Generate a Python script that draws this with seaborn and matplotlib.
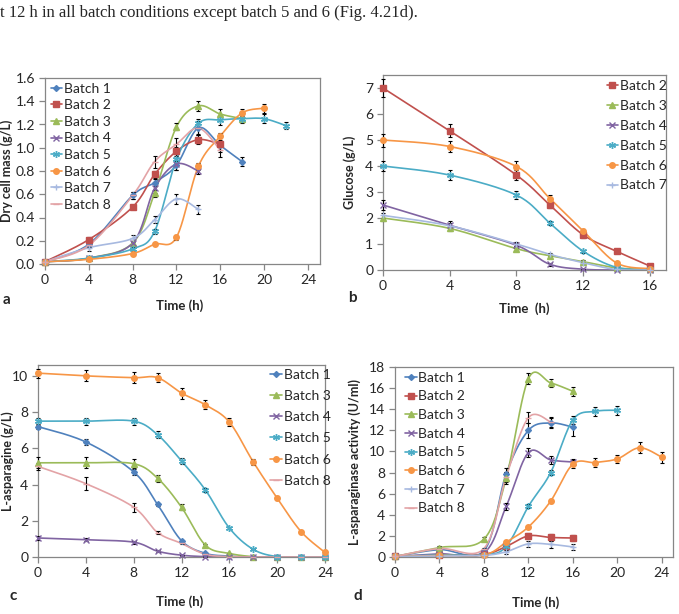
import numpy as np
import matplotlib.pyplot as plt
import seaborn as sns
from matplotlib.lines import Line2D

sns.set_style("white")
plt.rcParams['font.family'] = ['Lato', 'DejaVu Sans']

# ---- data ----
t_a = [0, 4, 8, 10, 12, 14, 16, 18, 20, 22]
dcm = {
    'Batch 1': [0.02, 0.17, 0.59, 0.70, 0.85, 1.17, 1.02, 0.88],
    'Batch 2': [0.02, 0.21, 0.49, 0.77, 0.97, 1.07, 1.03],
    'Batch 3': [0.02, 0.05, 0.18, 0.61, 1.18, 1.36, 1.29, 1.25],
    'Batch 4': [0.02, 0.05, 0.18, 0.65, 0.86, 0.80],
    'Batch 5': [0.02, 0.05, 0.13, 0.28, 0.90, 1.21, 1.24, 1.25, 1.25, 1.19],
    'Batch 6': [0.02, 0.04, 0.09, 0.17, 0.23, 0.84, 1.10, 1.30, 1.34],
    'Batch 7': [0.02, 0.14, 0.22, 0.38, 0.56, 0.47],
    'Batch 8': [0.02, 0.16, 0.59, 0.88, 1.03, 1.17, 0.98],
}
dcm_err = {
    'Batch 1': [0.01, 0.02, 0.03, 0.03, 0.04, 0.05, 0.06, 0.04],
    'Batch 2': [0.01, 0.02, 0.02, 0.03, 0.04, 0.04, 0.05],
    'Batch 3': [0.01, 0.01, 0.02, 0.03, 0.03, 0.04, 0.04, 0.04],
    'Batch 4': [0.01, 0.01, 0.02, 0.04, 0.05, 0.03],
    'Batch 5': [0.01, 0.01, 0.02, 0.02, 0.05, 0.04, 0.04, 0.03, 0.04, 0.03],
    'Batch 6': [0.01, 0.01, 0.01, 0.01, 0.02, 0.03, 0.03, 0.03, 0.04],
    'Batch 7': [0.01, 0.03, 0.03, 0.03, 0.04, 0.04],
    'Batch 8': [0.01, 0.02, 0.03, 0.05, 0.05, 0.06, 0.06],
}

t_b = [0, 4, 8, 10, 12, 14, 16]
glucose = {
    'Batch 2': [7.0, 5.35, 3.65, 2.5, 1.35, 0.72, 0.15],
    'Batch 3': [2.0, 1.6, 0.82, 0.55, 0.32, 0.08, 0.02],
    'Batch 4': [2.5, 1.72, 0.95, 0.22, 0.03, 0.0, 0.0],
    'Batch 5': [4.0, 3.65, 2.88, 1.8, 0.72, 0.1, 0.02],
    'Batch 6': [5.0, 4.75, 3.98, 2.75, 1.5, 0.27, 0.05],
    'Batch 7': [2.1, 1.7, 1.0, 0.6, 0.28, 0.02, 0.0],
}
glucose_err = {
    'Batch 2': [0.35, 0.25, 0.2, 0.1, 0.1, 0.05, 0.05],
    'Batch 3': [0.1, 0.1, 0.1, 0.05, 0.05, 0.02, 0.02],
    'Batch 4': [0.2, 0.15, 0.1, 0.05, 0.02, 0.01, 0.01],
    'Batch 5': [0.2, 0.18, 0.15, 0.08, 0.05, 0.02, 0.02],
    'Batch 6': [0.25, 0.22, 0.2, 0.12, 0.08, 0.03, 0.02],
    'Batch 7': [0.1, 0.1, 0.08, 0.05, 0.03, 0.01, 0.01],
}

t_c = [0, 4, 8, 10, 12, 14, 16, 18, 20, 22, 24]
asn = {
    'Batch 1': [7.2, 6.35, 4.7, 2.9, 0.9, 0.2, 0.05, 0.0, 0.0, 0.0, 0.0],
    'Batch 3': [5.2, 5.2, 5.15, 4.35, 2.75, 0.65, 0.2, 0.02, 0.0, 0.0, 0.0],
    'Batch 4': [1.05, 0.95, 0.82, 0.32, 0.1, 0.02, 0.0, 0.0, 0.0, 0.0, 0.0],
    'Batch 5': [7.5, 7.5, 7.5, 6.75, 5.3, 3.7, 1.6, 0.42, 0.02, 0.0, 0.0],
    'Batch 6': [10.15, 10.0, 9.9, 9.9, 9.05, 8.4, 7.45, 5.25, 3.25, 1.4, 0.25],
    'Batch 8': [5.0, 4.05, 2.75, 1.35, 0.75, 0.15, 0.02, 0.0, 0.0, 0.0, 0.0],
}
asn_err = {
    'Batch 1': [0.15, 0.15, 0.15, 0.1, 0.05, 0.03, 0.02, 0.01, 0.01, 0.01, 0.01],
    'Batch 3': [0.3, 0.3, 0.25, 0.2, 0.15, 0.05, 0.03, 0.01, 0.01, 0.01, 0.01],
    'Batch 4': [0.1, 0.08, 0.08, 0.05, 0.03, 0.01, 0.01, 0.01, 0.01, 0.01, 0.01],
    'Batch 5': [0.2, 0.2, 0.2, 0.2, 0.15, 0.1, 0.05, 0.03, 0.01, 0.01, 0.01],
    'Batch 6': [0.25, 0.3, 0.3, 0.25, 0.3, 0.25, 0.2, 0.15, 0.1, 0.05, 0.05],
    'Batch 8': [0.2, 0.35, 0.25, 0.1, 0.05, 0.02, 0.01, 0.01, 0.01, 0.01, 0.01],
}

t_d = [0, 4, 8, 10, 12, 14, 16, 18, 20, 22, 24]
activity = {
    'Batch 1': [0.05, 0.7, 0.6, 7.9, 12.0, 12.7, 12.3],
    'Batch 2': [0.05, 0.15, 0.25, 1.0, 2.0, 1.85, 1.8],
    'Batch 3': [0.05, 0.9, 1.7, 7.5, 16.9, 16.5, 15.7],
    'Batch 4': [0.05, 0.3, 0.4, 4.8, 9.9, 9.2, 9.0],
    'Batch 5': [0.05, 0.2, 0.2, 1.0, 4.8, 8.0, 13.0, 13.8, 13.9],
    'Batch 6': [0.05, 0.15, 0.2, 1.4, 2.85, 5.3, 8.8, 8.95, 9.3, 10.35, 9.45],
    'Batch 7': [0.05, 0.1, 0.15, 0.5, 1.25, 1.2, 0.95],
    'Batch 8': [0.05, 0.8, 0.8, 7.6, 13.2, 12.8],
}
activity_err = {
    'Batch 1': [0.05, 0.1, 0.2, 0.5, 0.7, 0.5, 0.8],
    'Batch 2': [0.05, 0.05, 0.1, 0.2, 0.3, 0.3, 0.3],
    'Batch 3': [0.05, 0.1, 0.2, 0.6, 0.5, 0.4, 0.4],
    'Batch 4': [0.05, 0.1, 0.1, 0.3, 0.4, 0.4, 0.3],
    'Batch 5': [0.05, 0.05, 0.05, 0.2, 0.2, 0.2, 0.4, 0.4, 0.4],
    'Batch 6': [0.05, 0.05, 0.05, 0.1, 0.1, 0.2, 0.4, 0.4, 0.4, 0.5, 0.5],
    'Batch 7': [0.05, 0.05, 0.05, 0.2, 0.3, 0.3, 0.3],
    'Batch 8': [0.05, 0.1, 0.1, 0.5, 0.5, 0.5],
}

# Excel-like colours and markers
colors = {'Batch 1': '#4F81BD', 'Batch 2': '#C0504D', 'Batch 3': '#9BBB59',
          'Batch 4': '#8064A2', 'Batch 5': '#4BACC6', 'Batch 6': '#F79646',
          'Batch 7': '#A7B9E0', 'Batch 8': '#E3A3A6'}
markers = {'Batch 1': ('D', 3), 'Batch 2': ('s', 4), 'Batch 3': ('^', 4),
           'Batch 4': ('x', 4), 'Batch 5': ((6, 2, 0), 5), 'Batch 6': ('o', 4),
           'Batch 7': ('+', 5), 'Batch 8': ('_', 5)}


def smooth(x, y, n=24):
    # excel style smoothed line (bezier through points, tension 1/6)
    P = np.column_stack([x, y]).astype(float)
    P = np.vstack([P[0], P, P[-1]])
    t = np.linspace(0, 1, n)[:, None]
    out = []
    for i in range(1, len(P) - 2):
        p0, p1, p2, p3 = P[i - 1], P[i], P[i + 1], P[i + 2]
        c1 = p1 + (p2 - p0) / 6
        c2 = p2 - (p3 - p1) / 6
        seg = ((1 - t) ** 3) * p1 + 3 * ((1 - t) ** 2) * t * c1 + 3 * (1 - t) * t ** 2 * c2 + t ** 3 * p2
        out.append(seg)
    out = np.vstack(out)
    return out[:, 0], out[:, 1]


def panel(ax, times, data, errs, xlim, ylim, yticks, xlabel, ylabel,
          lab_x, lab_y, leg_anchor, leg_space):
    for name, vals in data.items():
        x = times[:len(vals)]
        sx, sy = smooth(x, vals)
        sns.lineplot(x=sx, y=sy, ax=ax, color=colors[name], lw=1.2,
                     sort=False, estimator=None, legend=False)
        ax.errorbar(x, vals, yerr=errs[name], fmt='none', ecolor='black',
                    elinewidth=0.8, capsize=1.5, capthick=0.8, zorder=4, clip_on=False)
        m, ms = markers[name]
        ax.plot(x, vals, ls='none', marker=m, ms=ms, color=colors[name],
                mec=colors[name], mew=1, zorder=5, clip_on=False)
    ax.set_xlim(*xlim)
    ax.set_ylim(*ylim)
    ax.set_yticks(yticks)
    ax.set_xticks([t for t in [0, 4, 8, 12, 16, 20, 24] if t <= xlim[1]])
    for s in ax.spines.values():
        s.set_color('#868686')
        s.set_linewidth(0.9)
    ax.tick_params(axis='both', which='both', direction='out', length=4,
                   width=0.9, color='#868686', labelsize=10, pad=3, left=True, bottom=True)
    ax.set_xlabel(xlabel, fontsize=9.5, fontweight='bold')
    ax.set_ylabel(ylabel, fontsize=9, fontweight='bold')
    ax.xaxis.set_label_coords(lab_x[0], lab_x[1])
    ax.yaxis.set_label_coords(lab_y[0], lab_y[1])
    handles = [Line2D([0], [0], color=colors[n], lw=1.2, marker=markers[n][0],
                      ms=markers[n][1], mec=colors[n]) for n in data]
    ax.legend(handles, list(data.keys()), loc='upper left', bbox_to_anchor=leg_anchor,
              frameon=False, fontsize=10, handlelength=0.85, handletextpad=0.1,
              labelspacing=leg_space, borderpad=0, borderaxespad=0)


W, H = 679, 614
fig = plt.figure(figsize=(W / 100, H / 100), dpi=100)


def box(l, r, t, b):
    return [l / W, 1 - b / H, (r - l) / W, (b - t) / H]


ax_a = fig.add_axes(box(45, 320, 78, 264))
ax_b = fig.add_axes(box(383, 666, 75, 270))
ax_c = fig.add_axes(box(38, 325, 365, 557))
ax_d = fig.add_axes(box(395, 673, 367, 557))

panel(ax_a, t_a, dcm, dcm_err, (0, 25.1), (0, 1.6), np.arange(0, 1.61, 0.2),
      'Time (h)', 'Dry cell mass (g/L)', (0.49, -0.19), (-0.118, 0.5), (0.02, 0.975), 0.33)
ax_a.yaxis.set_major_formatter(plt.FormatStrFormatter('%.1f'))

panel(ax_b, t_b, glucose, glucose_err, (0, 16.96), (0, 7.5), range(0, 8),
      'Time  (h)', 'Glucose (g/L)', (0.5, -0.165), (-0.097, 0.5), (0.79, 0.975), 0.57)

panel(ax_c, t_c, asn, asn_err, (0, 24), (0, 10.6), range(0, 11, 2),
      'Time (h)', 'L-asparagine (g/L)', (0.495, -0.2), (-0.082, 0.5), (0.81, 0.98), 0.66)

panel(ax_d, t_d, activity, activity_err, (0, 25.0), (0, 18), range(0, 19, 2),
      'Time (h)', 'L-asparaginase activity (U/ml)', (0.505, -0.205), (-0.124, 0.5), (0.036, 0.975), 0.48)

for lab, x, y in [('a', 3, 300), ('b', 348, 298), ('c', 10, 596), ('d', 353, 596)]:
    fig.text(x / W, 1 - y / H, lab, fontsize=11, fontweight='bold', va='center', ha='left')

fig.text(0, 1 - 13 / H, 't 12 h in all batch conditions except batch 5 and 6 (Fig. 4.21d).',
         family=['Liberation Serif', 'DejaVu Serif'], fontsize=12, va='center', ha='left')

plt.savefig('out.png', dpi=100)
